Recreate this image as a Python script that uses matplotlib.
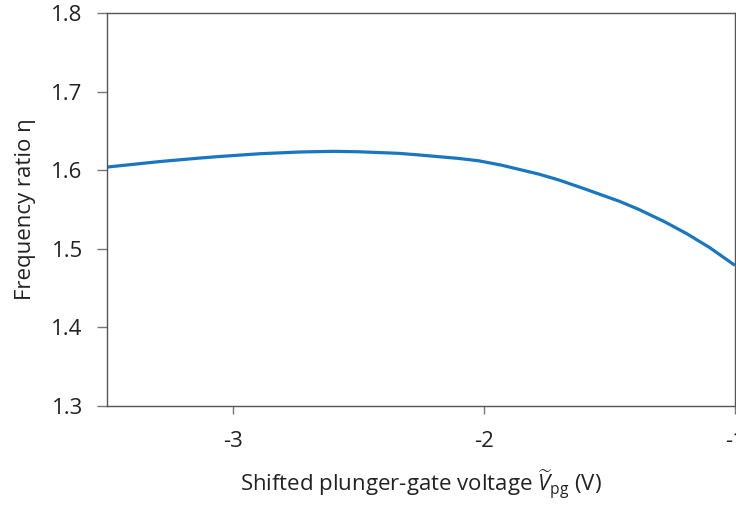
import numpy as np
from matplotlib import pyplot as plt

plt.rcParams['font.family'] = ['Open Sans', 'DejaVu Sans']
plt.rcParams['mathtext.fontset'] = 'custom'
plt.rcParams['mathtext.rm'] = 'Open Sans'
plt.rcParams['mathtext.it'] = 'Open Sans:italic'

# values
voltage = [-3.5, -3.29, -3.13, -3.05, -2.89, -2.73, -2.6, -2.5, -2.34, -2.26, -2.1, -2.02,
           -1.93, -1.78, -1.70, -1.6, -1.46, -1.385, -1.28, -1.19, -1.1, -1.0]
ratio = [1.604, 1.611, 1.6155, 1.6175, 1.621, 1.6232, 1.624, 1.6235, 1.6215, 1.6195, 1.615, 1.612,
         1.6065, 1.595, 1.5875, 1.5765, 1.5605, 1.5505, 1.5345, 1.519, 1.5015, 1.479]
xticks = [-3, -2, -1]
yticks = [1.3, 1.4, 1.5, 1.6, 1.7, 1.8]

fig = plt.figure(figsize=(7.36, 5.11), dpi=100)
ax = fig.add_axes([0.1454, 0.2055, 0.853, 0.769])

ax.plot(voltage, ratio, color='#1877c0', lw=2.3, solid_capstyle='butt', solid_joinstyle='round')

ax.set_xlim(-3.5, -1)
ax.set_ylim(1.3, 1.8)
ax.set_xticks(xticks)
ax.set_xticklabels(['-3', '-2', '-1'])
ax.set_yticks(yticks)
ax.set_yticklabels(['%.1f' % v for v in yticks])

for s in ax.spines.values():
    s.set_color('#555555')
    s.set_linewidth(1.0)
ax.tick_params(axis='y', direction='out', length=7.5, width=1, color='#777777', pad=10, labelsize=16, labelcolor='#222222')
ax.tick_params(axis='x', direction='out', length=6, width=1, color='#777777', pad=12, labelsize=16, labelcolor='#222222')

ax.set_xlabel(r'Shifted plunger-gate voltage $\widetilde{V}_{\mathrm{pg}}$ (V)', fontsize=16, color='#222222', labelpad=11)
ax.set_ylabel('Frequency ratio η', fontsize=16, color='#222222', labelpad=11)

plt.savefig('out.png', dpi=100)
